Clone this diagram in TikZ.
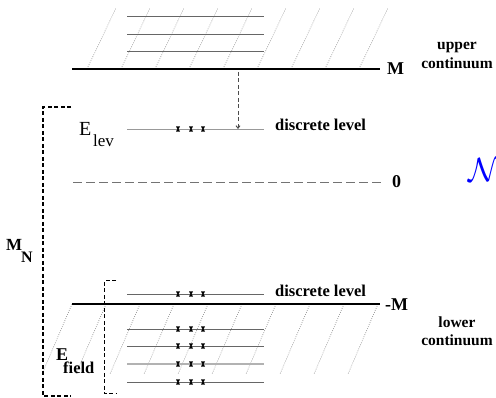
\documentclass[tikz,border=0pt]{standalone}
\usepackage{fontspec}
\setmainfont{Liberation Serif}
\usetikzlibrary{arrows.meta}
\tikzset{
  contline/.style={line width=2pt,black},
  levline/.style={line width=0.9pt,black!60},
  palelev/.style={line width=1.8pt,black!30},
  hatchline/.style={line width=0.6pt,black!45,dash pattern=on 0.8pt off 1.4pt},
  zeroline/.style={line width=0.9pt,black!55,dash pattern=on 9pt off 4pt},
  brackline/.style={line width=1.3pt,black,dash pattern=on 4pt off 2.5pt},
  smallbrack/.style={line width=1pt,black,dash pattern=on 4pt off 2.5pt},
  arrowline/.style={line width=1pt,black!70,dash pattern=on 4pt off 2.5pt,-{Straight Barb[length=2.5pt,width=4pt]}},
  lab/.style={inner sep=0pt,font=\fontsize{16.5}{16.5}\selectfont\bfseries},
  bigt/.style={inner sep=0pt,font=\fontsize{18}{18}\selectfont\bfseries},
  contlab/.style={inner sep=0pt,anchor=base,font=\fontsize{15.5}{15.5}\selectfont\bfseries},
  pics/xmark/.style={code={\fill[black] (-2,-2.6) -- (2,-2.6) -- (0.6,0) -- (2,2.6) -- (-2,2.6) -- (-0.6,0) -- cycle;}}
}
\begin{document}
\begin{tikzpicture}[x=1pt,y=-1pt]
\useasboundingbox (0,0) rectangle (496,398);
\fill[white] (0,0) rectangle (496,398);
% upper continuum hatching
\foreach \k in {0,...,8}{
  \coordinate (uhb\k) at ({87+34*\k},69);
  \coordinate (uht\k) at ({116+34*\k},8);
  \draw[hatchline] (uhb\k) -- (uht\k);
}
% lower continuum hatching
\foreach \k in {0,...,9}{
  \coordinate (lht\k) at ({72+34*\k},304);
  \coordinate (lhb\k) at ({42+34*\k},374);
  \draw[hatchline] (lht\k) -- (lhb\k);
}
% upper continuum levels
\foreach \y [count=\i] in {16,34,51}{
  \coordinate (ul\i a) at (127,\y);
  \coordinate (ul\i b) at (264,\y);
  \draw[levline] (ul\i a) -- (ul\i b);
}
% continuum edges
\coordinate (ua) at (72,69);  \coordinate (ub) at (380,69);
\coordinate (la) at (72,304); \coordinate (lb) at (380,304);
\draw[contline] (ua) -- (ub);
\draw[contline] (la) -- (lb);
\node[bigt] (M) at (395.5,68.5) {M};
\node[bigt] (mM) at (396.5,305) {-M};
% zero line
\coordinate (za) at (73,182); \coordinate (zb) at (384,182);
\draw[zeroline] (za) -- (zb);
\node[bigt] (zero) at (396.5,182) {0};
% upper discrete level
\coordinate (dla) at (127,129); \coordinate (dlb) at (264,129);
\draw[line width=0.9pt,black!40] (dla) -- (dlb);
\node[lab,anchor=west] (dl1) at (275,124.5) {discrete level};
% lower discrete level
\coordinate (dma) at (127,294); \coordinate (dmb) at (264,294);
\draw[levline] (dma) -- (dmb);
\node[lab,anchor=west] (dl2) at (275,290.5) {discrete level};
% lower continuum levels
\foreach \y [count=\i] in {329,346,382}{
  \coordinate (ll\i a) at (127,\y);
  \coordinate (ll\i b) at (264,\y);
  \draw[levline] (ll\i a) -- (ll\i b);
}
\coordinate (lpa) at (127,364); \coordinate (lpb) at (264,364);
\draw[palelev] (lpa) -- (lpb);
% crosses
\foreach \y in {129,294,329,346,364,382}{
  \foreach \x in {178,191,203}{
    \pic at (\x,\y) {xmark};
  }
}
% dashed arrow
\coordinate (arA) at (238,72); \coordinate (arB) at (238,129);
\draw[arrowline] (arA) -- (arB);
% labels
\node[contlab] (up1) at (457,50) {upper};
\node[contlab] (up2) at (457,69) {continuum};
\node[contlab] (lo1) at (457,328) {lower};
\node[contlab] (lo2) at (457,346) {continuum};
% E_lev
\node[inner sep=0pt,anchor=base west,font=\fontsize{20}{20}\selectfont] (Elev) at (79,136) {E};
\node[inner sep=0pt,anchor=base west,font=\fontsize{17}{17}\selectfont] (lev) at (93,147) {lev};
% M_N
\node[inner sep=0pt,anchor=base west,font=\fontsize{17}{17}\selectfont\bfseries] (MN) at (6,251) {M};
\node[inner sep=0pt,anchor=base west,font=\fontsize{16}{16}\selectfont\bfseries] (Nsub) at (21,263) {N};
% E_field
\node[inner sep=0pt,anchor=base west,font=\fontsize{18}{18}\selectfont\bfseries] (Ef) at (56,361) {E};
\node[inner sep=0pt,anchor=base west,font=\fontsize{16.5}{16.5}\selectfont\bfseries] (field) at (63,374) {field};
% brackets
\coordinate (b1) at (71,107); \coordinate (b2) at (43,107);
\coordinate (b3) at (43,396); \coordinate (b4) at (71,396);
\draw[brackline] (b1) -- (b2) -- (b3) -- (b4);
\coordinate (c1) at (116,281); \coordinate (c2) at (104,281);
\coordinate (c3) at (104,394); \coordinate (c4) at (116,394);
\draw[smallbrack] (c1) -- (c2) -- (c3) -- (c4);
% calligraphic N
\node[inner sep=0pt,anchor=west,text=blue,font=\fontsize{24}{24}\selectfont] (calN) at (468,170) {\scalebox{1.35}{$\mathcal{N}$}};
\end{tikzpicture}
\end{document}
